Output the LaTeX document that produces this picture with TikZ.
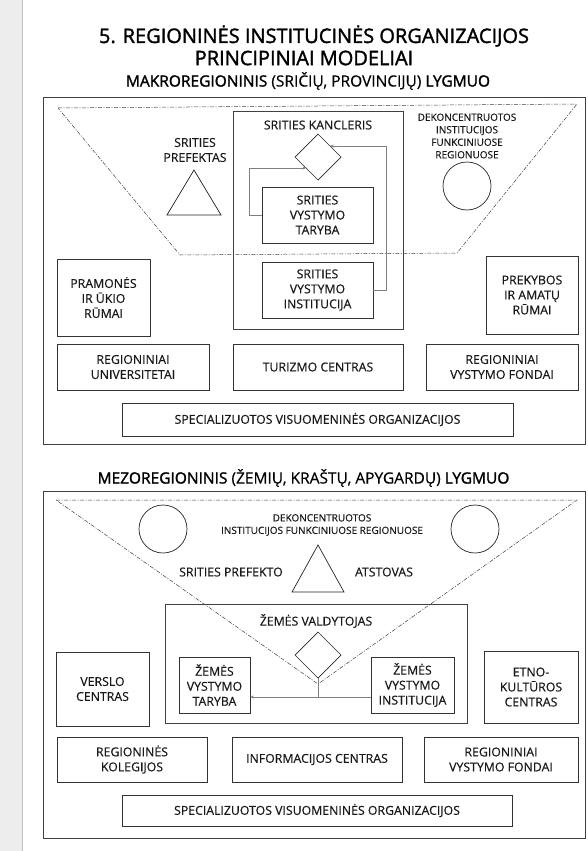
\documentclass[tikz,border=0pt]{standalone}
\usepackage{fontspec}
\setmainfont{Open Sans}[FakeBold=0.35]
\newfontfamily\headbold{Open Sans}[FakeBold=1.6]
\usetikzlibrary{arrows.meta}
\begin{document}
\begin{tikzpicture}[x=1pt,y=-1pt,
  txt/.style={font=\fontsize{12.3}{15}\selectfont, align=center, inner sep=0pt, text=black!90},
  small/.style={font=\fontsize{10}{12.5}\selectfont, align=center, inner sep=0pt, text=black!90},
  box/.style={draw=black!80, line width=0.75pt, txt},
  frame/.style={draw=black!75, line width=0.75pt},
  ddash/.style={draw=black!75, line width=0.5pt, dash pattern=on 4pt off 1.5pt on 1pt off 1.5pt},
  conn/.style={draw=black!50, line width=0.8pt},
  arr/.style={conn, -{Stealth[length=3.5pt,width=3pt]}},
  shp/.style={draw=black!85, line width=0.7pt},
  ttl/.style={font=\headbold\fontsize{20}{24}\selectfont, inner sep=0pt},
  hdr/.style={font=\fontsize{15.5}{18}\selectfont, inner sep=0pt}
]
\useasboundingbox (0,0) rectangle (588,851);
\fill[white] (0,0) rectangle (588,851);
\fill[black!7] (0,0) rectangle (22,851);
\draw[black!25, line width=0.8pt] (22,0) -- (22,851);

% ---------- titles ----------
\node[ttl] (t1) at (314,36) {5. REGIONINĖS INSTITUCINĖS ORGANIZACIJOS};
\node[ttl] (t2) at (304,58) {PRINCIPINIAI MODELIAI};
\node[hdr] (h1) at (308,81) {{\headbold MAKROREGIONINIS} (SRIČIŲ, PROVINCIJŲ) {\headbold LYGMUO}};

% ---------- section 1 ----------
\node[frame, minimum width=542pt, minimum height=347pt, inner sep=0pt, anchor=north west] (out1) at (43,97) {};
\draw[ddash] (58,108) -- (577,104) -- (457,253) -- (180,255) -- cycle;

\node[frame, minimum width=170pt, minimum height=218pt, inner sep=0pt] (kbox) at (318,220) {};
\node[txt] (kanc) at (318,125) {SRITIES KANCLERIS};
\draw[shp] (318,134) -- (341,157) -- (318,180) -- (295,157) -- cycle;
\coordinate (kdne) at (330,146);
\coordinate (kdsw) at (306,168);

\node[box, minimum width=111pt, minimum height=56pt] (svt) at (317.5,215) {SRITIES\\VYSTYMO\\TARYBA};
\node[box, minimum width=111pt, minimum height=56pt] (svi) at (317.5,290) {SRITIES\\VYSTYMO\\INSTITUCIJA};
\draw[arr] (svi.east) -- (386,290) -- (386,146) -- (kdne);
\draw[arr] (svt.west) -- (249,215) -- (249,168) -- (kdsw);

\node[txt] (pref) at (195,150) {SRITIES\\PREFEKTAS};
\draw[shp] (194,170) -- (221,215) -- (167,215) -- cycle;

\node[small] (dek1) at (467,136) {DEKONCENTRUOTOS\\INSTITUCIJOS\\FUNKCINIUOSE\\REGIONUOSE};
\draw[shp] (467,186) circle (24);

\node[box, minimum width=93pt, minimum height=77pt] (pram) at (103.5,297.5) {PRAMONĖS\\IR ŪKIO\\RŪMAI};
\node[box, minimum width=92pt, minimum height=78pt] (prek) at (532,295) {PREKYBOS\\IR AMATŲ\\RŪMAI};

\node[box, minimum width=152pt, minimum height=46pt] (univ) at (133,367) {REGIONINIAI\\UNIVERSITETAI};
\node[box, minimum width=170pt, minimum height=46pt] (tur) at (318,367) {TURIZMO CENTRAS};
\node[box, minimum width=152pt, minimum height=46pt] (fond1) at (502,367) {REGIONINIAI\\VYSTYMO FONDAI};
\node[box, minimum width=391pt, minimum height=33pt] (spec1) at (317.5,419.5) {SPECIALIZUOTOS VISUOMENINĖS ORGANIZACIJOS};

% ---------- section 2 ----------
\node[hdr] (h2) at (303.5,478) {{\headbold MEZOREGIONINIS} (ŽEMIŲ, KRAŠTŲ, APYGARDŲ) {\headbold LYGMUO}};
\node[frame, minimum width=542pt, minimum height=347pt, inner sep=0pt, anchor=north west] (out2) at (43,491) {};
\draw[ddash] (56,500) -- (577,500) -- (318,684) -- cycle;

\draw[shp] (163,529) circle (24);
\draw[shp] (475,529) circle (24);
\node[small] (dek2) at (322,525) {DEKONCENTRUOTOS\\INSTITUCIJOS FUNKCINIUOSE REGIONUOSE};
\draw[shp] (318,545) -- (344,592) -- (292,592) -- cycle;
\node[txt] (sp) at (231,572) {SRITIES PREFEKTO};
\node[txt] (ats) at (384,572) {ATSTOVAS};

\node[frame, minimum width=302pt, minimum height=119pt, inner sep=0pt, anchor=north west] (zvbox) at (165,604) {};
\node[txt] (zv) at (316,621) {ŽEMĖS VALDYTOJAS};
\draw[shp] (318,632) -- (341,655) -- (318,678) -- (295,655) -- cycle;
\coordinate (zdb) at (318,678);
\node[box, minimum width=71pt, minimum height=56pt] (zvt) at (214.5,685) {ŽEMĖS\\VYSTYMO\\TARYBA};
\node[box, minimum width=83pt, minimum height=56pt] (zvi) at (412.5,685) {ŽEMĖS\\VYSTYMO\\INSTITUCIJA};
\coordinate (zj) at (318,697);
\draw[arr] (zvi.west |- zj) -- (zvt.east |- zj);
\draw[conn] (zdb) -- (zj);

\node[box, minimum width=93pt, minimum height=74pt] (vers) at (102.5,689) {VERSLO\\CENTRAS};
\node[box, minimum width=94pt, minimum height=72pt] (etno) at (531,687) {ETNO-\\KULTŪROS\\CENTRAS};

\node[box, minimum width=150pt, minimum height=45pt] (koleg) at (132,759.5) {REGIONINĖS\\KOLEGIJOS};
\node[box, minimum width=170pt, minimum height=45pt] (info) at (317,759.5) {INFORMACIJOS CENTRAS};
\node[box, minimum width=154pt, minimum height=45pt] (fond2) at (501,759.5) {REGIONINIAI\\VYSTYMO FONDAI};
\node[box, minimum width=390pt, minimum height=31pt] (spec2) at (317,810.5) {SPECIALIZUOTOS VISUOMENINĖS ORGANIZACIJOS};
\end{tikzpicture}
\end{document}
